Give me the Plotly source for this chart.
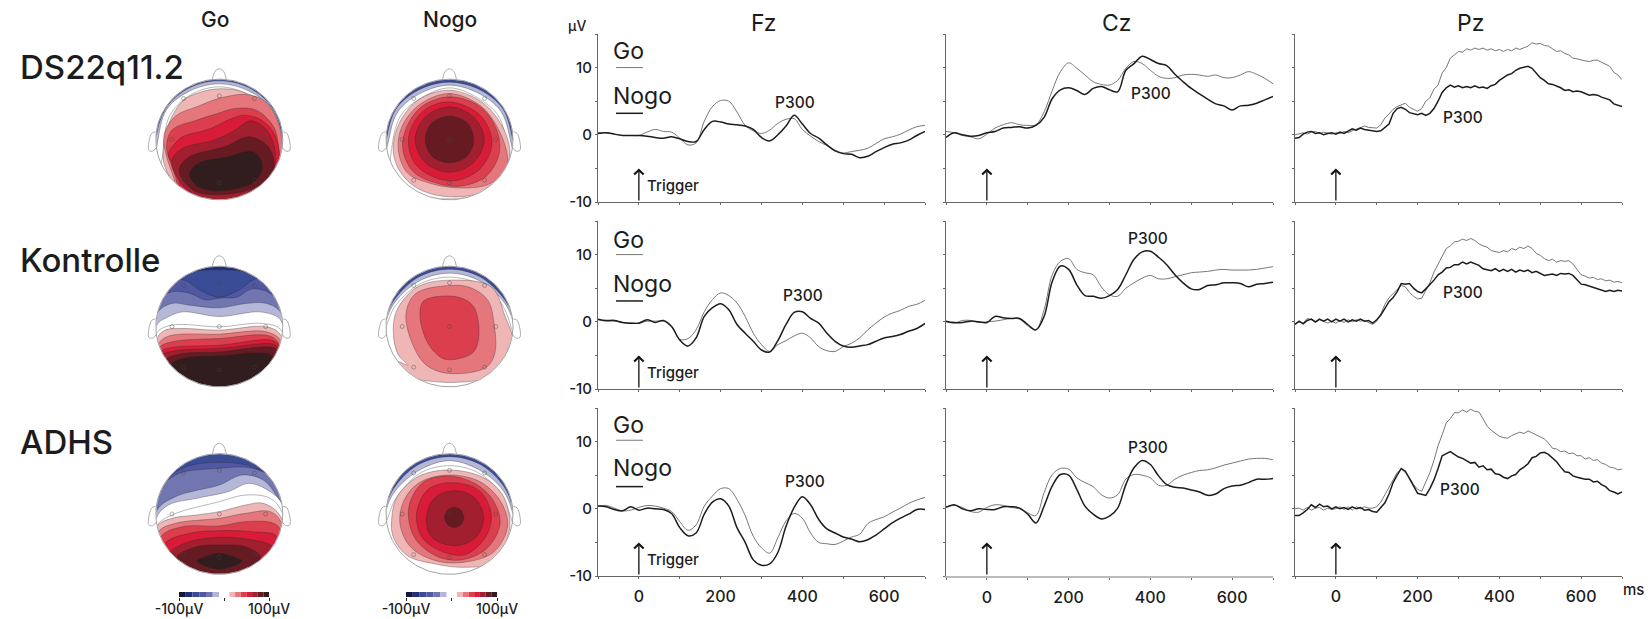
import numpy as np
import plotly.graph_objects as go

W, H = 1648, 619          # page size
FONT = "Inter"
INK = "#1c1c1c"

# ---------------- ERP data (microvolts) ----------------
T20 = list(range(-100, 701, 20))
T10 = list(range(-100, 701, 10))

FZ_DS_GO = [.3,.3,.1,-.1,-.1,-.1,.4,.8,.5,.4,-.5,-1.5,-1.2,2.0,4.2,5.1,5.0,3.4,1.4,.6,.2,.7,1.7,2.3,2.4,.8,-.2,-1.0,-1.6,-2.3,-2.7,-2.5,-2.3,-2.0,-1.3,-.6,-.3,.1,.7,1.2,1.4]
FZ_DS_NOGO = [.2,.3,.1,-.1,-.1,-.1,-.2,-.4,-.5,-.3,-.6,-1.0,-1.0,.8,2.0,1.9,1.6,1.5,1.3,.8,-.4,-.9,.0,1.3,2.9,1.6,.2,-.5,-1.5,-2.4,-2.8,-2.9,-3.4,-3.2,-2.5,-1.9,-1.4,-1.2,-.8,-.1,.5]
CZ_DS_GO = [.5,.3,-.1,-.3,-.6,.1,1.0,1.5,1.8,1.5,1.4,1.5,3.4,6.6,9.4,10.7,9.9,8.9,7.9,7.5,7.4,8.1,9.9,10.9,10.6,9.6,8.7,8.4,8.5,8.9,9.0,8.9,8.7,8.9,8.5,8.5,8.9,9.4,9.0,8.4,7.6]
CZ_DS_NOGO = [-.4,.3,0,-.2,-.1,.3,.5,1.0,1.1,1.2,1.0,1.4,2.6,5.4,6.7,7.0,6.6,6.0,6.9,7.2,6.7,6.4,9.6,10.6,11.7,11.2,10.6,10.3,9.0,7.9,6.9,6.1,5.3,4.6,4.3,3.7,4.3,4.4,4.7,5.2,5.7]
PZ_DS_GO = [0.0,0.2,0.3,0.1,0.4,0.5,0.2,0.4,0.2,0.1,
            0.3,0.2,0.5,0.3,0.6,0.8,1.0,1.3,1.1,1.0,
            1.0,1.5,2.5,3.1,3.8,4.2,4.4,4.7,4.1,3.8,
            3.5,3.9,5.0,5.5,6.8,7.4,9.2,10.0,11.4,11.9,
            12.4,12.3,12.8,12.6,12.9,12.7,12.9,12.6,12.8,12.5,
            12.7,12.4,12.7,12.5,12.9,12.7,13.0,13.2,13.7,13.5,
            13.6,13.3,13.2,12.8,12.4,12.5,12.1,11.9,11.4,11.3,
            11.1,11.0,10.9,11.1,11.1,10.8,10.5,10.2,9.3,8.9,8.2]
PZ_DS_NOGO = [-0.5,-0.4,0.1,0.4,0.5,0.2,0.3,0.0,0.2,0.3,
              0.1,0.4,0.2,0.6,0.9,0.7,1.0,0.8,0.7,0.6,
              0.5,0.6,1.1,1.6,3.2,3.9,4.1,3.8,3.3,3.1,
              3.0,3.2,2.9,3.2,3.9,5.0,6.3,7.0,7.4,7.1,
              7.3,7.0,7.2,7.0,7.3,7.0,7.1,6.9,7.3,7.5,
              8.1,8.5,8.9,9.1,9.6,9.9,10.1,10.2,9.9,9.2,
              8.5,8.1,7.6,7.5,7.3,7.0,6.6,6.7,6.4,6.5,
              6.4,6.1,5.9,6.0,5.9,5.6,5.4,5.2,4.6,4.4,4.2]

FZ_KO_GO = [.3,.1,.1,-.1,-.2,-.2,.1,.1,.1,-.7,-2.6,-2.5,-1.2,1.5,3.3,4.3,3.9,2.8,.8,-1.7,-3.4,-4.4,-3.4,-2.8,-2.1,-1.7,-2.4,-3.7,-4.3,-4.4,-3.7,-3.2,-2.4,-1.2,-.2,.7,1.3,1.7,2.3,2.6,3.2]
FZ_KO_NOGO = [.4,.2,.2,-.1,-.2,-.2,.3,-.1,.2,-.7,-2.7,-3.6,-2.4,.8,2.1,2.7,1.8,-.4,-1.7,-2.9,-4.2,-4.5,-2.8,-.4,1.4,1.5,.5,-.2,-1.7,-2.9,-3.6,-3.8,-3.6,-3.4,-2.9,-2.4,-2.2,-1.9,-1.4,-1.0,-.25]
CZ_KO_GO = [0,-.2,.2,.2,-.1,0,.1,.3,.5,.4,-.6,-1.2,1.8,7.0,9.0,9.4,7.8,7.3,7.0,5.2,4.0,3.8,5.0,5.8,6.5,6.9,6.4,6.4,6.7,7.0,7.3,7.4,7.5,7.7,7.8,7.7,7.7,7.7,7.8,8.0,8.2]
CZ_KO_NOGO = [.1,-.1,-.1,.1,0,-.1,.8,.6,.5,.5,-.4,-1.2,.8,6.0,8.3,7.8,5.5,3.9,3.8,3.5,3.9,4.8,7.0,9.3,10.4,10.5,9.6,8.5,7.0,5.8,4.9,4.8,5.4,5.5,5.8,5.8,5.7,5.2,5.6,5.7,5.9]
PZ_KO_GO = [-0.3,0.0,-0.2,0.5,0.3,-0.1,0.3,0.0,-0.2,0.1,
            -0.2,0.2,-0.1,0.3,0.0,0.3,0.1,0.2,-0.1,-0.4,
            0.1,1.2,2.6,3.6,4.2,4.8,5.4,5.2,4.4,3.8,
            3.4,3.5,4.6,5.8,7.4,8.6,9.8,10.9,11.3,11.9,
            12.0,12.3,12.1,12.4,12.1,11.6,11.3,11.1,10.6,10.5,
            10.3,10.6,10.4,10.9,10.7,11.1,10.9,11.3,10.9,10.2,
            9.9,9.4,9.1,9.3,8.9,9.1,9.0,9.1,8.6,7.8,
            7.0,6.8,6.5,6.6,6.3,6.4,6.1,6.2,5.9,6.0,5.8]
PZ_KO_NOGO = [-0.4,0.1,-0.3,0.2,0.4,0.0,0.4,0.1,0.4,0.0,
              0.4,0.1,0.4,0.0,0.3,0.1,0.4,0.1,0.2,-0.2,
              0.3,1.0,2.0,3.0,3.6,4.5,5.7,5.6,5.7,5.0,
              4.5,4.3,4.9,5.5,6.2,7.0,7.4,8.0,8.1,8.5,
              8.5,8.9,8.6,8.9,8.7,8.4,7.9,7.8,7.6,7.9,
              7.5,7.8,7.5,7.8,7.4,7.7,7.5,7.7,7.3,7.5,
              7.2,6.9,7.0,7.1,6.9,7.2,7.1,7.2,6.9,6.3,
              5.6,5.5,5.3,5.1,4.9,4.7,4.5,4.7,4.5,4.7,4.6]

FZ_AD_GO = [.4,.5,.1,-.3,-.2,.2,.5,.4,.1,-.4,-1.9,-3.2,-2.4,.4,1.9,3.0,3.0,1.4,-1.0,-4.1,-5.8,-6.6,-4.3,-1.8,-.7,-1.4,-3.6,-5.0,-5.2,-5.3,-4.8,-4.2,-3.8,-2.2,-1.6,-1.2,-.5,.1,.8,1.3,1.7]
FZ_AD_NOGO = [.4,.3,-.1,-.3,.3,-.2,.1,0,-.1,-.7,-2.8,-4.0,-3.6,-.8,1.0,1.5,.4,-2.8,-5.0,-7.6,-8.4,-8.2,-6.5,-2.6,.2,1.8,.6,-1.6,-3.0,-3.6,-4.2,-4.5,-4.9,-4.6,-3.9,-3.0,-2.1,-1.4,-.8,-.1,-.1]
CZ_AD_GO = [.3,.5,.2,-.4,-.5,.2,.6,.5,.2,0,-.6,-1.0,2.4,5.1,6.0,5.9,4.6,3.9,3.3,2.1,1.6,2.1,4.4,5.1,5.0,4.6,3.5,3.5,4.4,5.0,5.4,5.7,5.8,6.1,6.5,6.8,7.1,7.4,7.5,7.5,7.3]
CZ_AD_NOGO = [.2,.6,0,-.3,0,-.1,-.1,.3,.3,.1,-.8,-2.1,.4,3.4,5.1,5.0,2.9,.4,-.8,-1.5,-1.1,.1,3.6,6.1,7.2,6.6,4.9,3.6,3.2,3.1,2.8,2.5,2.0,2.2,3.0,3.4,3.5,3.9,4.4,4.4,4.5]
PZ_AD_GO = [0.0,0.1,-0.2,0.2,-0.2,0.1,0.2,-0.2,0.1,-0.1,
            0.0,0.3,-0.1,0.3,-0.2,0.3,0.0,0.3,0.1,0.1,
            0.3,1.0,2.1,3.2,4.4,5.4,5.9,5.4,4.6,3.6,
            2.9,2.6,4.0,5.4,7.2,9.4,11.0,12.8,13.4,14.3,
            14.3,14.7,14.4,14.8,14.5,14.4,13.4,12.3,11.7,11.2,
            10.8,10.6,10.5,10.9,11.2,11.4,11.2,11.6,11.3,11.0,
            10.8,10.4,9.8,9.0,8.9,8.5,8.6,8.2,8.3,7.9,
            7.9,7.4,7.6,7.2,7.3,6.8,6.6,6.2,6.1,5.8,5.9]
PZ_AD_NOGO = [-1.0,-1.0,-0.6,-0.1,0.6,0.2,0.7,0.3,0.4,0.0,
              0.3,0.0,0.2,-0.1,0.3,0.0,0.2,-0.2,-0.1,-0.4,
              -0.5,0.2,0.9,2.2,3.9,5.0,6.0,5.6,4.6,3.4,
              2.3,2.2,2.0,3.0,4.3,6.0,7.9,8.2,8.5,8.1,
              7.7,7.5,7.2,6.8,6.9,6.2,6.4,5.8,5.9,5.2,
              5.1,4.7,4.5,4.9,5.1,5.8,6.2,6.7,7.6,7.8,
              8.3,8.4,8.1,7.5,7.0,6.2,5.5,5.4,4.9,4.7,
              4.5,4.4,4.4,4.0,4.1,3.6,3.3,2.7,2.5,2.2,2.5]

CHANNELS = ["Fz", "Cz", "Pz"]
GROUPS = ["DS22q11.2", "Kontrolle", "ADHS"]
X_TICK_VALUES = [-100, 0, 100, 200, 300, 400, 500, 600, 700]
X_TICK_TEXT = ["", "0", "", "200", "", "400", "", "600", ""]
Y_TICK_VALUES = [-10, -5, 0, 5, 10, 15]
Y_TICK_TEXT = ["-10", "", "0", "", "10", ""]
P300_POS = {  # (ms, uV) of each label
    ("Fz", 0): (382, 4.8), ("Cz", 0): (401, 6.1), ("Pz", 0): (312, 2.5),
    ("Fz", 1): (402, 3.9), ("Cz", 1): (394, 12.4), ("Pz", 1): (310, 4.3),
    ("Fz", 2): (406, 4.0), ("Cz", 2): (395, 9.1), ("Pz", 2): (303, 2.8),
}
LEGEND_Y = [(12.4, 10.0, 5.8, 3.2), (12.2, 10.0, 5.65, 3.1), (12.5, 10.2, 6.0, 3.3)]

# ---------------- scalp maps: iso-potential outlines in scalp units, radius 181 ----------------
LEVELS = ["#1f2f7c", "#3a4c96", "#5058a3", "#7276b0", "#b5b7d8", "#ffffff",
          "#f0b6b6", "#e5777c", "#db3f4d", "#d81b36", "#a21f30", "#661a22", "#311c1e"]
TAIL = [(198, -198), (-198, -198)]
SQUARE = [(-195,-195),(-195,195),(195,195),(195,-195)]
R = 181
ELECTRODES_X = [-102, 0, 100, -135, 0, 132, -102, 0, 100]
ELECTRODES_Y = [123, 131, 123, 0, 0, 0, -122, -130, -122]

DS_GO = [
 (1, SQUARE),
 (4, [(-179,15),(-150,97),(-85,155),(0,176),(85,155),(150,97),(179,15)] + TAIL),
 (5, [(-178,-20),(-150,90),(-85,145),(0,167),(85,145),(150,90),(178,-20)] + TAIL),
 (5, [(-165,-70),(-142,70),(-80,135),(0,158),(80,135),(142,70),(170,-40)] + TAIL),
 (6, [(-160,-55),(-150,30),(-105,115),(-50,143),(0,152),(60,145),(115,115),(160,40),(176,-30),(190,-110),(198,-198),(-120,-198),(-125,-140),(-150,-95)]),
 (7, [(-157,15),(-125,70),(-60,100),(5,125),(80,135),(130,115),(165,60),(180,-10),(198,-198),(-110,-198),(-130,-115),(-152,-45)]),
 (8, [(-150,-25),(-135,28),(-65,58),(-5,78),(45,93),(105,88),(155,38),(172,-40),(198,-198),(-100,-198),(-125,-110)]),
 (9, [(-145,-45),(-125,-10),(-105,8),(-25,33),(35,63),(75,73),(125,55),(160,10),(170,-60),(150,-120),(198,-198),(-90,-198),(-120,-95)]),
 (10,[(-135,-62),(-105,-27),(-15,-2),(45,28),(90,56),(135,28),(160,-42),(140,-130),(60,-175),(-60,-172),(-120,-115)]),
 (11,[(-115,-92),(-85,-52),(15,-22),(85,8),(140,-22),(155,-82),(115,-137),(15,-165),(-75,-152)]),
 (12,[(-85,-104),(-60,-72),(25,-52),(95,-37),(122,-72),(105,-122),(25,-152),(-55,-144)]),
]
DS_NOGO = [
 (1, SQUARE),
 (4, [(-178,10),(-150,95),(-85,150),(0,172),(85,150),(150,95),(178,10)] + TAIL),
 (5, [(-175,-10),(-146,85),(-80,140),(0,163),(80,140),(146,85),(175,-10)] + TAIL),
 (5, [(-165,-30),(-140,70),(-80,125),(0,155),(80,125),(140,70),(165,-30),(170,-100),(100,-160),(0,-178),(-100,-160),(-165,-90)]),
 (6, [(0,148),(-90,118),(-145,45),(-160,-40),(-135,-105),(-85,-150),(0,-172),(100,-155),(150,-95),(172,-50),(155,30),(95,110)]),
 (7, [(0,138),(-85,105),(-135,40),(-146,-30),(-120,-100),(-60,-130),(20,-145),(110,-135),(160,-90),(165,-50),(140,30),(90,100)]),
 (8, [(0,128),(-80,98),(-125,30),(-133,-30),(-105,-95),(-40,-130),(30,-140),(105,-110),(142,-40),(132,35),(85,100)]),
 (9, [(0,113),(-75,85),(-116,10),(-100,-70),(-40,-115),(25,-122),(90,-85),(121,-10),(90,70)]),
 (10,[(0,98),(-68,68),(-98,0),(-68,-70),(0,-98),(68,-70),(99,0),(68,68)]),
 (11,[(0,70),(-50,50),(-69,0),(-50,-50),(0,-70),(50,-50),(69,0),(50,50)]),
]
KO_GO = [
 (0, SQUARE),
 (1, [(-180,120),(-100,160),(0,170),(100,160),(180,120)] + TAIL),
 (2, [(-190,115),(-145,144),(-95,137),(-55,109),(0,88),(55,109),(95,139),(145,154),(190,120)] + TAIL),
 (3, [(-180,70),(-135,104),(-85,100),(-40,80),(0,85),(50,88),(90,112),(135,105),(180,60)] + TAIL),
 (4, [(-178,38),(-135,69),(-85,64),(0,56),(75,69),(135,69),(178,38)] + TAIL),
 (5, [(-178,4),(-145,29),(-105,44),(0,30),(115,44),(165,29),(180,9)] + TAIL),
 (5, [(-180,-21),(-135,4),(0,-1),(125,9),(176,-11)] + TAIL),
 (6, [(-178,-36),(-155,-11),(-105,-6),(0,-11),(135,-1),(175,-26)] + TAIL),
 (7, [(-176,-56),(-145,-29),(0,-23),(135,-16),(178,-46)] + TAIL),
 (8, [(-173,-66),(-135,-46),(0,-36),(145,-29),(175,-61)] + TAIL),
 (9, [(-167,-76),(-135,-63),(0,-56),(155,-43),(175,-71)] + TAIL),
 (10,[(-162,-86),(-125,-73),(0,-66),(160,-56),(170,-81)] + TAIL),
 (11,[(-155,-101),(-115,-83),(0,-76),(160,-66),(165,-95)] + TAIL),
 (12,[(-135,-111),(-105,-96),(0,-88),(135,-81),(155,-96),(170,-130)] + TAIL),
]
KO_NOGO = [
 (1, SQUARE),
 (4, [(-180,30),(-150,90),(-85,150),(0,172),(85,150),(150,90),(180,30)] + TAIL),
 (5, [(-178,25),(-146,85),(-80,140),(0,160),(80,140),(146,85),(178,25)] + TAIL),
 (5, [(-170,30),(-140,80),(-80,130),(0,148),(80,130),(140,80),(172,10)] + TAIL),
 (6, [(0,139),(-91,119),(-150,49),(-160,-20),(-146,-85),(-118,-116),(-150,-105),(-190,-130),(-100,-157),(-65,-163),(0,-168),(75,-163),(110,-157),(190,-110),(165,-70),(180,-40),(159,29),(119,119)]),
 (7, [(0,123),(-96,99),(-124,39),(-106,-51),(-66,-116),(0,-141),(104,-123),(129,-81),(127,9),(109,79),(59,117)]),
 (8, [(-41,89),(-76,74),(-84,29),(-61,-51),(-19,-96),(19,-98),(69,-76),(84,-21),(69,59),(29,87)]),
]
AD_GO = [
 (1, SQUARE),
 (2, [(-185,60),(-110,135),(0,155),(110,135),(185,60)] + TAIL),
 (3, [(-180,50),(-125,117),(0,137),(95,137),(165,100),(185,60)] + TAIL),
 (4, [(-180,7),(-125,52),(0,87),(65,117),(125,102),(165,52),(185,10)] + TAIL),
 (5, [(-180,-13),(-145,27),(-65,47),(25,67),(85,92),(145,67),(180,27)] + TAIL),
 (5, [(-180,-38),(-135,-3),(0,37),(75,57),(145,47),(180,2)] + TAIL),
 (6, [(-178,-38),(-135,-13),(-65,-3),(0,7),(75,27),(125,32),(175,-8)] + TAIL),
 (7, [(-173,-53),(-125,-28),(0,-13),(75,2),(145,7),(178,-28)] + TAIL),
 (8, [(-167,-68),(-105,-38),(0,-36),(75,-23),(155,-28),(178,-53)] + TAIL),
 (9, [(-155,-88),(-85,-58),(0,-50),(95,-53),(160,-63),(170,-88)] + TAIL),
 (10,[(-140,-113),(-85,-83),(0,-70),(95,-78),(150,-98),(130,-140)] + TAIL),
 (11,[(-120,-128),(-65,-98),(5,-93),(75,-98),(117,-128),(75,-168),(0,-180),(-85,-158)]),
 (12,[(-63,-141),(-30,-125),(0,-118),(30,-125),(65,-141),(30,-160),(0,-166),(-30,-160)]),
]
AD_NOGO = [
 (1, SQUARE),
 (4, [(-180,25),(-150,90),(-85,150),(0,172),(85,150),(150,90),(180,20)] + TAIL),
 (5, [(-178,20),(-146,80),(-80,135),(0,160),(80,135),(146,80),(178,10)] + TAIL),
 (5, [(-165,20),(-140,65),(-80,125),(0,145),(80,125),(140,70),(170,5)] + TAIL),
 (6, [(0,132),(-90,112),(-150,50),(-165,-20),(-160,-70),(-120,-125),(-40,-150),(40,-160),(125,-145),(165,-70),(172,-20),(150,60),(95,110)]),
 (7, [(0,117),(-85,95),(-130,40),(-141,-30),(-110,-100),(-40,-140),(40,-145),(125,-115),(165,-40),(150,30),(90,95)]),
 (8, [(0,114),(-75,95),(-116,20),(-100,-70),(-40,-125),(30,-138),(105,-105),(144,-30),(125,40),(75,90)]),
 (9, [(10,94),(-60,75),(-94,0),(-75,-75),(0,-120),(50,-120),(105,-65),(119,0),(85,70)]),
 (10,[(15,70),(-40,50),(-66,-10),(-50,-70),(15,-95),(75,-70),(97,-10),(70,50)]),
 (11,[(13,20),(-5,12),(-14,-10),(-5,-32),(13,-40),(32,-32),(41,-10),(32,12)]),
]
LEFT_EAR = [(-182,23),(-193,18),(-201,-32),(-190,-35),(-178,-22)]
NOSE = [(-20,180),(-12,205),(0,212),(12,205),(20,180)]

# colour scale bar: left edge, width, level
CB_VALUES = [-100,-85,-70,-55,-40,-25, 12,24.6,37.2,49.8,62.4,75,87.6]
CB_WIDTHS = [15,15,15,15,15,14, 12.6,12.6,12.6,12.6,12.6,12.6,12.4]
CB_COLORS = ["#14163a","#1f2f7c","#3a4c96","#5058a3","#7276b0","#b5b7d8",
             "#f0b6b6","#e5777c","#db3f4d","#d81b36","#a21f30","#661a22","#311c1e"]

# ---------------- layout geometry (page pixels) ----------------
ERP_COLS = [(598, 925), (946, 1273), (1295, 1622)]
ERP_ROWS = [(34, 202), (221, 389), (408, 576)]
HEAD_CX = [219.3, 449.5]
HEAD_CY = [139.5, 326.5, 514]
SX, SY = 1 / 2.85, 1 / 3
HALF = 260

fig = go.Figure()
layout = {}
annotations = []
ax_count = 0


def fx(x):
    return x / W


def fy(y):
    return 1 - y / H


def new_axes(xpx, ypx, xcfg, ycfg):
    global ax_count
    ax_count += 1
    n = ax_count
    sx = "" if n == 1 else str(n)
    layout[f"xaxis{sx}"] = dict(domain=[fx(xpx[0]), fx(xpx[1])], anchor=f"y{sx}", automargin=False, **xcfg)
    layout[f"yaxis{sx}"] = dict(domain=[fy(ypx[1]), fy(ypx[0])], anchor=f"x{sx}", automargin=False, **ycfg)
    return f"x{sx}", f"y{sx}"


def fnt(size, weight=500):
    return dict(family=FONT, size=size, color=INK, weight=weight)


def text(x, y, s, size, xanchor="center", weight=500):
    annotations.append(dict(x=fx(x), y=fy(y), xref="paper", yref="paper", text=s, showarrow=False,
                            xanchor=xanchor, yanchor="middle", font=fnt(size, weight)))


SERIES = {
    ("Fz", 0): (T20, FZ_DS_GO, FZ_DS_NOGO), ("Cz", 0): (T20, CZ_DS_GO, CZ_DS_NOGO), ("Pz", 0): (T10, PZ_DS_GO, PZ_DS_NOGO),
    ("Fz", 1): (T20, FZ_KO_GO, FZ_KO_NOGO), ("Cz", 1): (T20, CZ_KO_GO, CZ_KO_NOGO), ("Pz", 1): (T10, PZ_KO_GO, PZ_KO_NOGO),
    ("Fz", 2): (T20, FZ_AD_GO, FZ_AD_NOGO), ("Cz", 2): (T20, CZ_AD_GO, CZ_AD_NOGO), ("Pz", 2): (T10, PZ_AD_GO, PZ_AD_NOGO),
}
for r, ypx in enumerate(ERP_ROWS):
    for c, ch in enumerate(CHANNELS):
        xcfg = dict(range=[-100, 700], tickmode="array", tickvals=X_TICK_VALUES, ticktext=X_TICK_TEXT,
                    showticklabels=r == 2, ticks="outside", ticklen=2, tickcolor="#666666",
                    showline=True, linecolor="#bbbbbb" if (r == 2 and c == 1) else "#666666",
                    linewidth=2 if (r == 2 and c == 1) else 1, showgrid=False, zeroline=False,
                    tickfont=fnt(16), ticklabelstandoff=4)
        ycfg = dict(range=[-10, 15], tickmode="array", tickvals=Y_TICK_VALUES, ticktext=Y_TICK_TEXT,
                    showticklabels=c == 0, ticks="outside", ticklen=2, tickcolor="#666666",
                    showline=True, linecolor="#666666", linewidth=1, showgrid=False, zeroline=False,
                    tickfont=fnt(15))
        xa, ya = new_axes(ERP_COLS[c], ypx, xcfg, ycfg)
        t, go_vals, nogo_vals = SERIES[(ch, r)]
        shape = "linear" if ch == "Pz" else "spline"
        fig.add_trace(go.Scatter(x=t, y=go_vals, xaxis=xa, yaxis=ya, mode="lines", showlegend=False,
                                 line=dict(color="#777777", width=1, shape=shape)))
        fig.add_trace(go.Scatter(x=t, y=nogo_vals, xaxis=xa, yaxis=ya, mode="lines", showlegend=False,
                                 line=dict(color="#1c1c1c", width=1.5, shape=shape)))
        annotations.append(dict(x=0, y=-5.0, ax=0, ay=-10, xref=xa, yref=ya, axref=xa, ayref=ya, text="",
                                showarrow=True, arrowhead=4, arrowsize=1.4, arrowwidth=1.3, arrowcolor="#111111"))
        px_, py_ = P300_POS[(ch, r)]
        annotations.append(dict(x=px_, y=py_, xref=xa, yref=ya, text="P300", showarrow=False, font=fnt(15.5)))
        if c == 0:
            gy, gl, ny, nl = LEGEND_Y[r]
            annotations.append(dict(x=16, y=-7.5, xref=xa, yref=ya, text="Trigger", showarrow=False, xanchor="left",
                                    font=fnt(15)))
            annotations.append(dict(x=-68, y=gy, xref=xa, yref=ya, text="Go", showarrow=False, xanchor="left",
                                    font=fnt(23, 400)))
            annotations.append(dict(x=-68, y=ny, xref=xa, yref=ya, text="Nogo", showarrow=False, xanchor="left",
                                    font=fnt(23, 400)))
            fig.add_trace(go.Scatter(x=[-56, 10], y=[gl, gl], xaxis=xa, yaxis=ya, mode="lines", showlegend=False,
                                     line=dict(color="#777777", width=1)))
            fig.add_trace(go.Scatter(x=[-56, 10], y=[nl, nl], xaxis=xa, yaxis=ya, mode="lines", showlegend=False,
                                     line=dict(color="#1c1c1c", width=1.5)))

# scalp maps
hidden = dict(visible=False, range=[-HALF, HALF], fixedrange=True)
HEADS = [[DS_GO, DS_NOGO], [KO_GO, KO_NOGO], [AD_GO, AD_NOGO]]
th = np.linspace(0, 2 * np.pi, 181)
circ_x, circ_y = R * np.cos(th), R * np.sin(th)
OUT = 320
for r, cy in enumerate(HEAD_CY):
    for c, cx in enumerate(HEAD_CX):
        xa, ya = new_axes((cx - HALF * SX, cx + HALF * SX), (cy - HALF * SY, cy + HALF * SY), hidden, hidden)
        for level, pts in HEADS[r][c]:
            px = [p[0] for p in pts] + [pts[0][0]]
            py = [p[1] for p in pts] + [pts[0][1]]
            fig.add_trace(go.Scatter(x=px, y=py, xaxis=xa, yaxis=ya, mode="lines", fill="toself",
                                     fillcolor=LEVELS[level], showlegend=False,
                                     line=dict(color="rgba(40,40,40,0.55)", width=0.6, shape="spline", smoothing=1)))
        # white surround that trims the outlines to the head circle (keyhole polygon)
        mx = [OUT, OUT, -OUT, -OUT, OUT, OUT] + list(circ_x) + [OUT]
        my = [0, OUT, OUT, -OUT, -OUT, 0] + list(-circ_y) + [0]
        fig.add_trace(go.Scatter(x=mx, y=my, xaxis=xa, yaxis=ya, mode="lines", fill="toself", fillcolor="#ffffff",
                                 showlegend=False, line=dict(color="#ffffff", width=0.8)))
        fig.add_trace(go.Scatter(x=circ_x, y=circ_y, xaxis=xa, yaxis=ya, mode="lines", showlegend=False,
                                 line=dict(color="#8a8a8a", width=0.8)))
        fig.add_trace(go.Scatter(x=ELECTRODES_X, y=ELECTRODES_Y, xaxis=xa, yaxis=ya, mode="markers", showlegend=False,
                                 marker=dict(symbol="circle-open", size=4, color="rgba(70,70,70,0.7)", line=dict(width=0.6))))
        ear_x = [p[0] for p in LEFT_EAR]
        ear_y = [p[1] for p in LEFT_EAR]
        for sign in (-1, 1):
            fig.add_trace(go.Scatter(x=[sign * -v for v in ear_x], y=ear_y, xaxis=xa, yaxis=ya, mode="lines", showlegend=False,
                                     line=dict(color="#999999", width=0.8, shape="spline")))
        fig.add_trace(go.Scatter(x=[p[0] for p in NOSE], y=[p[1] for p in NOSE], xaxis=xa, yaxis=ya, mode="lines",
                                 showlegend=False, line=dict(color="#999999", width=0.8, shape="spline")))

# colour bars
for (a, b) in [(179, 269), (406, 497)]:
    xcfg = dict(range=[-100, 100], tickmode="array", tickvals=[-100, 0, 100], ticktext=["-100µV", "", "100µV"],
                ticks="outside", ticklen=3, tickcolor="#222222", showline=False, showgrid=False, zeroline=False,
                tickfont=fnt(14), ticklabelstandoff=-4)
    ycfg = dict(range=[0, 1], visible=False)
    xa, ya = new_axes((a, b), (592, 597), xcfg, ycfg)
    fig.add_trace(go.Bar(x=CB_VALUES, y=[1] * len(CB_VALUES), width=CB_WIDTHS, offset=0, xaxis=xa, yaxis=ya,
                         marker=dict(color=CB_COLORS, line=dict(width=0)), showlegend=False))

# free-standing labels
text(215, 20, "Go", 21)
text(449.5, 20, "Nogo", 21)
text(764, 23, "Fz", 23, weight=400)
text(1117, 23, "Cz", 23, weight=400)
text(1470, 23, "Pz", 23, weight=400)
text(577, 25, "µV", 14)
text(1633, 589, "ms", 15)
text(18, 67, GROUPS[0], 33, "left")
text(18, 260, GROUPS[1], 33, "left")
text(18, 442, GROUPS[2], 33, "left")

fig.update_layout(width=W, height=H, margin=dict(l=0, r=0, t=0, b=0, autoexpand=False), paper_bgcolor="white", plot_bgcolor="rgba(0,0,0,0)",
                  showlegend=False, annotations=annotations, hovermode=False, **layout)
fig.write_html("out.html", config=dict(displayModeBar=False),
               post_script="document.body.style.margin='0';document.documentElement.style.overflow='hidden';")
